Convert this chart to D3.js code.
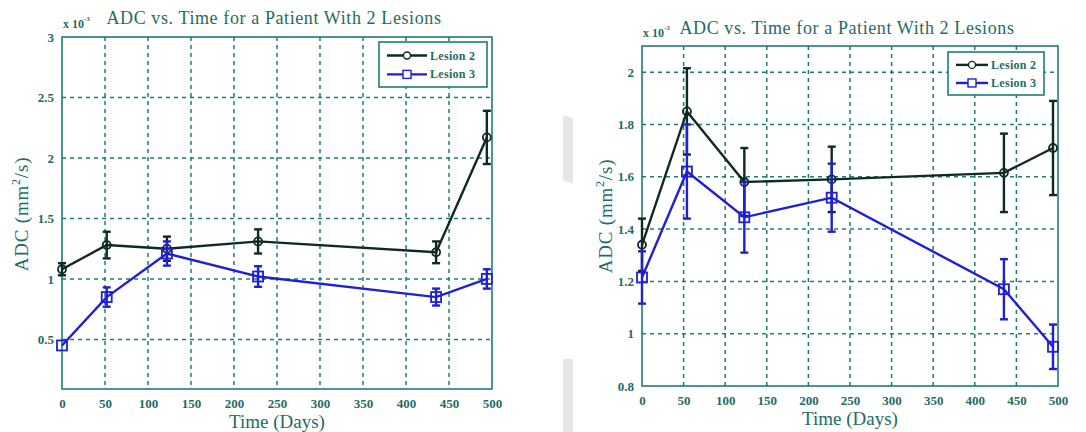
<!DOCTYPE html>
<html>
<head>
<meta charset="utf-8">
<script src="https://cdn.jsdelivr.net/npm/d3@7"></script>
<style>
  body { margin: 0; background: #fff; }
  svg { display: block; }
  svg text { font-family: "Liberation Serif", "DejaVu Serif", serif; }
</style>
</head>
<body>
<div id="chart"></div>
<script>
// Data (ADC values are x 10^-3)
const leftDays = [0, 52, 122, 228, 435, 494];
const leftLesion2 = [1.08, 1.28, 1.25, 1.31, 1.22, 2.17];
const leftLesion2Err = [0.05, 0.11, 0.10, 0.10, 0.09, 0.22];
const leftLesion3 = [0.45, 0.85, 1.21, 1.02, 0.85, 1.0];
const leftLesion3Err = [0, 0.08, 0.10, 0.085, 0.07, 0.08];

const rightDays = [0, 54, 123, 228, 435, 494];
const rightLesion2 = [1.34, 1.85, 1.58, 1.59, 1.615, 1.71];
const rightLesion2Err = [0.1, 0.165, 0.13, 0.125, 0.15, 0.18];
const rightLesion3 = [1.215, 1.62, 1.445, 1.52, 1.17, 0.95];
const rightLesion3Err = [0.1, 0.18, 0.135, 0.13, 0.115, 0.085];

const xTicks = [0, 50, 100, 150, 200, 250, 300, 350, 400, 450, 500];
const leftYTicks = [0.5, 1, 1.5, 2, 2.5, 3];
const rightYTicks = [0.8, 1, 1.2, 1.4, 1.6, 1.8, 2];
const seriesNames = ["Lesion 2", "Lesion 3"];

const title = "ADC vs. Time for a Patient With 2 Lesions";

// Colours
const teal = "#1d7c76";
const tealText = "#1f6b66";
const darkLine = "#0f2a24";
const blueLine = "#1f1fd6";
const serif = "'Liberation Serif', 'DejaVu Serif', serif";

const width = 1086;
const height = 432;

const svg = d3.select("#chart")
  .append("svg")
  .attr("width", width)
  .attr("height", height);

// Scanner artefacts between the panels
svg.append("path").attr("d", "M563,115 L573,118 L573,184 L563,180 Z").attr("fill", "#e6e6e6");
svg.append("rect").attr("x", 563).attr("y", 359).attr("width", 10).attr("height", 73).attr("fill", "#e6e6e6");

// Draw one panel
function drawPanel(p) {
  const g = svg.append("g");

  const xScale = d3.scaleLinear().domain([0, 500]).range([p.left, p.right]);
  const yScale = d3.scaleLinear().domain(p.yDomain).range([p.bottom, p.top]);

  // Grid
  g.selectAll(".vgrid")
    .data(xTicks.slice(1, -1))
    .enter()
    .append("line")
    .attr("x1", d => xScale(d)).attr("x2", d => xScale(d))
    .attr("y1", p.top).attr("y2", p.bottom)
    .attr("stroke", teal).attr("stroke-width", 1.5)
    .attr("stroke-dasharray", "4,4");

  g.selectAll(".hgrid")
    .data(p.yTicks.filter(d => d > p.yDomain[0] && d < p.yDomain[1]))
    .enter()
    .append("line")
    .attr("x1", p.left).attr("x2", p.right)
    .attr("y1", d => yScale(d)).attr("y2", d => yScale(d))
    .attr("stroke", teal).attr("stroke-width", 1.5)
    .attr("stroke-dasharray", "4,4");

  // Box
  g.append("rect")
    .attr("x", p.left).attr("y", p.top)
    .attr("width", p.right - p.left).attr("height", p.bottom - p.top)
    .attr("fill", "none").attr("stroke", teal).attr("stroke-width", 1.6);

  // Axes (labels only)
  const xAxis = g.append("g")
    .attr("transform", "translate(0," + p.bottom + ")")
    .call(d3.axisBottom(xScale).tickValues(xTicks).tickSize(0).tickPadding(10).tickFormat(d3.format("d")));
  const yAxis = g.append("g")
    .attr("transform", "translate(" + p.left + ",0)")
    .call(d3.axisLeft(yScale).tickValues(p.yTicks).tickSize(0).tickPadding(8).tickFormat(d3.format("~g")));
  [xAxis, yAxis].forEach(a => {
    a.attr("font-family", serif);
    a.select(".domain").remove();
    a.selectAll("text")
      .attr("fill", tealText)
      .style("font-size", "13px")
      .style("font-weight", "bold");
  });

  // Exponent
  const expo = g.append("text")
    .attr("x", p.left + 1).attr("y", p.top - 9)
    .attr("fill", tealText).style("font-size", "12px").style("font-weight", "bold");
  expo.append("tspan").text("x 10");
  expo.append("tspan").attr("dy", -7).style("font-size", "7px").text("-3");

  // Title
  g.append("text")
    .attr("x", p.titleX).attr("y", p.titleY)
    .attr("text-anchor", "middle")
    .attr("fill", tealText)
    .style("font-size", "18px")
    .style("letter-spacing", "0.6px")
    .text(title);

  // Axis titles
  g.append("text")
    .attr("x", (p.left + p.right) / 2).attr("y", p.bottom + 39)
    .attr("text-anchor", "middle")
    .attr("fill", tealText)
    .style("font-size", "19px")
    .text("Time (Days)");

  const yl = g.append("text")
    .attr("transform", "translate(" + p.yLabelX + "," + p.yLabelY + ") rotate(-90)")
    .attr("text-anchor", "middle")
    .attr("fill", tealText)
    .style("font-size", "19px")
    .style("letter-spacing", "0.8px");
  yl.append("tspan").text("ADC (mm");
  yl.append("tspan").attr("dy", -8).style("font-size", "12px").text("2");
  yl.append("tspan").attr("dy", 8).text("/s)");

  // Series
  const series = [
    { values: p.lesion2, errs: p.lesion2Err, color: darkLine, marker: "circle" },
    { values: p.lesion3, errs: p.lesion3Err, color: blueLine, marker: "square" }
  ];

  const line = d3.line()
    .x(d => xScale(d.x))
    .y(d => yScale(d.y));

  series.forEach(s => {
    const pts = p.days.map((d, i) => ({ x: d, y: s.values[i], e: s.errs[i] }));

    g.append("path")
      .datum(pts)
      .attr("d", line)
      .attr("fill", "none")
      .attr("stroke", s.color)
      .attr("stroke-width", 2.4);

    // Error bars
    const eb = g.append("g").selectAll("g")
      .data(pts.filter(d => d.e > 0))
      .enter()
      .append("g")
      .attr("stroke", s.color)
      .attr("stroke-width", 2.4);
    eb.append("line")
      .attr("x1", d => xScale(d.x)).attr("x2", d => xScale(d.x))
      .attr("y1", d => yScale(d.y - d.e)).attr("y2", d => yScale(d.y + d.e));
    [1, -1].forEach(sign => {
      eb.append("line")
        .attr("x1", d => xScale(d.x) - 4).attr("x2", d => xScale(d.x) + 4)
        .attr("y1", d => yScale(d.y + sign * d.e)).attr("y2", d => yScale(d.y + sign * d.e));
    });

    // Markers
    if (s.marker === "circle") {
      g.append("g").selectAll("circle")
        .data(pts)
        .enter()
        .append("circle")
        .attr("cx", d => xScale(d.x)).attr("cy", d => yScale(d.y))
        .attr("r", 4)
        .attr("fill", "none")
        .attr("stroke", s.color).attr("stroke-width", 1.8);
    } else {
      g.append("g").selectAll("rect")
        .data(pts)
        .enter()
        .append("rect")
        .attr("x", d => xScale(d.x) - 5).attr("y", d => yScale(d.y) - 5)
        .attr("width", 10).attr("height", 10)
        .attr("fill", "none")
        .attr("stroke", s.color).attr("stroke-width", 1.8);
    }
  });

  // Legend
  const lg = g.append("g");
  lg.append("rect")
    .attr("x", p.legend.x).attr("y", p.legend.y)
    .attr("width", p.legend.w).attr("height", p.legend.h)
    .attr("fill", "#fff").attr("stroke", teal).attr("stroke-width", 1.6);

  seriesNames.forEach((name, i) => {
    const s = series[i];
    const cy = p.legend.y + p.legend.h * (i === 0 ? 0.3 : 0.72);
    const x1 = p.legend.x + 8;
    const x2 = x1 + p.legend.lineW;
    lg.append("line")
      .attr("x1", x1).attr("x2", x2).attr("y1", cy).attr("y2", cy)
      .attr("stroke", s.color).attr("stroke-width", 2.4);
    if (s.marker === "circle") {
      lg.append("circle").attr("cx", (x1 + x2) / 2).attr("cy", cy).attr("r", 3.5)
        .attr("fill", "#fff").attr("stroke", s.color).attr("stroke-width", 1.4);
    } else {
      lg.append("rect").attr("x", (x1 + x2) / 2 - 4).attr("y", cy - 4).attr("width", 8).attr("height", 8)
        .attr("fill", "#fff").attr("stroke", s.color).attr("stroke-width", 1.4);
    }
    lg.append("text")
      .attr("x", x2 + 3).attr("y", cy + 4)
      .attr("fill", tealText)
      .style("font-size", "12px")
      .style("font-weight", "bold")
      .style("letter-spacing", "0.3px")
      .text(name);
  });
}

drawPanel({
  left: 62, right: 492, top: 37, bottom: 389,
  yDomain: [0.09, 3], yTicks: leftYTicks,
  days: leftDays,
  lesion2: leftLesion2, lesion2Err: leftLesion2Err,
  lesion3: leftLesion3, lesion3Err: leftLesion3Err,
  titleX: 274, titleY: 24,
  yLabelX: 28, yLabelY: 214,
  legend: { x: 379, y: 42, w: 108, h: 45, lineW: 40 }
});

drawPanel({
  left: 642, right: 1058, top: 46, bottom: 386,
  yDomain: [0.8, 2.1], yTicks: rightYTicks,
  days: rightDays,
  lesion2: rightLesion2, lesion2Err: rightLesion2Err,
  lesion3: rightLesion3, lesion3Err: rightLesion3Err,
  titleX: 847, titleY: 34,
  yLabelX: 612, yLabelY: 216,
  legend: { x: 948, y: 52, w: 96, h: 43, lineW: 32 }
});
</script>
</body>
</html>
